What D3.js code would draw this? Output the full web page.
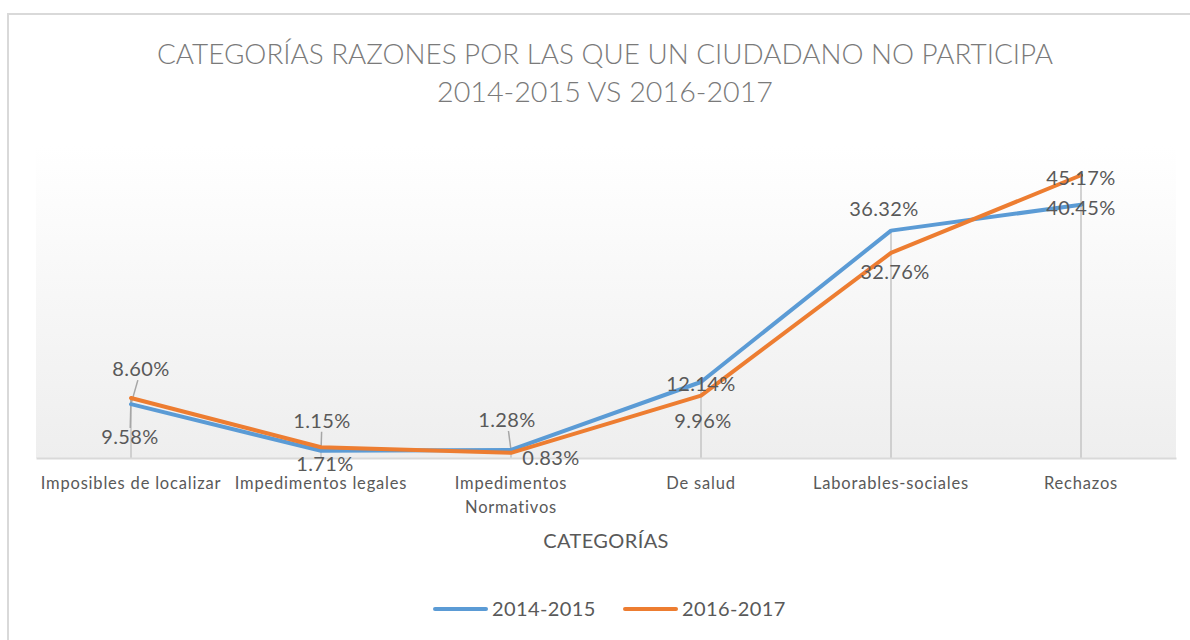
<!DOCTYPE html>
<html>
<head>
<meta charset="utf-8">
<script src="https://cdn.jsdelivr.net/npm/d3@7"></script>
<style>
  body { margin: 0; background: #fff; }
  svg { display: block; font-family: Lato, "Open Sans", sans-serif; }
</style>
</head>
<body>
<div id="chart"></div>
<script>
// data
var categories = ["Imposibles de localizar", "Impedimentos legales", "Impedimentos Normativos", "De salud", "Laborables-sociales", "Rechazos"];
var serie2014 = [8.60, 1.15, 1.28, 12.14, 36.32, 40.45];
var serie2016 = [9.58, 1.71, 0.83, 9.96, 32.76, 45.17];
var seriesNames = ["2014-2015", "2016-2017"];
var yTicks = [0, 50];

// label nudges (dx, dy from point to label centre), as moved in the original
var nudge2014 = [[10, -35], [1, -30], [-4, -30], [0, 2], [-7, -22], [0, 3]];
var nudge2016 = [[-1, 39], [4, 17], [40, 5], [2, 25], [4, 19], [0, 3]];

var colors = ["#5B9BD5", "#ED7D31"];

var width = 1190, height = 640;
var plot = {left: 36, right: 1176, top: 145, bottom: 458};

var svg = d3.select("#chart").append("svg")
    .attr("width", width)
    .attr("height", height);

// chart frame
svg.append("rect")
    .attr("x", 8).attr("y", 14)
    .attr("width", width + 20).attr("height", height + 20)
    .attr("fill", "#fff")
    .attr("stroke", "#d9d9d9")
    .attr("stroke-width", 2);

//////// SCALES ////////
var xScale = d3.scaleBand()
    .domain(categories)
    .range([plot.left, plot.right]);

var yScale = d3.scaleLinear()
    .domain(d3.extent(yTicks))
    .range([plot.bottom, plot.top]);

function cx(i) { return xScale(categories[i]) + xScale.bandwidth() / 2; }

// plot area gradient
var grad = svg.append("defs").append("linearGradient")
    .attr("id", "plotFill")
    .attr("x1", 0).attr("y1", 0).attr("x2", 0).attr("y2", 1);
grad.append("stop").attr("offset", "0%").attr("stop-color", "#ffffff");
grad.append("stop").attr("offset", "13%").attr("stop-color", "#fdfdfd");
grad.append("stop").attr("offset", "100%").attr("stop-color", "#eeeeee");

svg.append("rect")
    .attr("x", plot.left).attr("y", plot.top)
    .attr("width", plot.right - plot.left)
    .attr("height", plot.bottom - plot.top)
    .attr("fill", "url(#plotFill)");

// title
var title = svg.append("g")
    .attr("fill", "#7a7a7a")
    .attr("font-size", 28)
    .attr("font-weight", 300)
    .attr("text-anchor", "middle");
title.append("text").attr("x", 605).attr("y", 64)
    .attr("textLength", 896).attr("lengthAdjust", "spacingAndGlyphs")
    .text("CATEGORÍAS RAZONES POR LAS QUE UN CIUDADANO NO PARTICIPA");
title.append("text").attr("x", 605).attr("y", 102)
    .attr("textLength", 336).attr("lengthAdjust", "spacingAndGlyphs")
    .text("2014-2015 VS 2016-2017");

// drop lines
svg.append("g").selectAll("line")
    .data(categories)
    .enter().append("line")
    .attr("x1", function(d, i) { return cx(i); })
    .attr("x2", function(d, i) { return cx(i); })
    .attr("y1", function(d, i) { return yScale(Math.max(serie2014[i], serie2016[i])); })
    .attr("y2", yScale(0))
    .attr("stroke", "#c4c4c4")
    .attr("stroke-width", 1.5);

// x axis
var xAxis = svg.append("g")
    .attr("transform", "translate(0," + yScale(0) + ")")
    .call(d3.axisBottom(xScale).tickSize(0).tickPadding(0));

xAxis.select(".domain")
    .attr("stroke", "#d9d9d9")
    .attr("stroke-width", 2);

xAxis.selectAll(".tick text")
    .attr("fill", "#595959")
    .attr("font-size", 16.5)
    .attr("font-family", "Lato, sans-serif")
    .attr("letter-spacing", 0.8)
    .attr("dy", null)
    .attr("y", 31)
    .each(function(d) {
        var el = d3.select(this);
        var words = d.split(" ");
        if (d === "Impedimentos Normativos") {
            el.text(null);
            words.forEach(function(w, k) {
                el.append("tspan").attr("x", 0).attr("y", 31 + k * 24).text(w);
            });
        }
    });

// axis title
svg.append("text")
    .attr("x", (plot.left + plot.right) / 2)
    .attr("y", 548)
    .attr("text-anchor", "middle")
    .attr("fill", "#595959")
    .attr("font-size", 20)
    .attr("letter-spacing", 0.4)
    .text("CATEGORÍAS");

// leader lines and lines
var allSeries = [serie2014, serie2016];
var nudges = [nudge2014, nudge2016];

var line = d3.line()
    .x(function(d, i) { return cx(i); })
    .y(function(d) { return yScale(d); });

// leaders for labels moved far from their point
var leaders = svg.append("g")
    .attr("stroke", "#a6a6a6")
    .attr("stroke-width", 1.5);
allSeries.forEach(function(s, si) {
    s.forEach(function(v, i) {
        var n = nudges[si][i];
        if (Math.abs(n[1]) < 28) return;
        var px = cx(i), py = yScale(v);
        var lx = px + n[0], ly = py + n[1];
        var edge = n[1] < 0 ? ly + 11 : ly - 9;
        var t = (edge - py) / (ly - py);
        leaders.append("line")
            .attr("x1", px + (lx - px) * t).attr("y1", edge)
            .attr("x2", px).attr("y2", py);
    });
});

svg.append("g").selectAll("path")
    .data(allSeries)
    .enter().append("path")
    .attr("d", line)
    .attr("fill", "none")
    .attr("stroke", function(d, i) { return colors[i]; })
    .attr("stroke-width", 4)
    .attr("stroke-linejoin", "round")
    .attr("stroke-linecap", "round");

// data labels
allSeries.forEach(function(s, si) {
    svg.append("g").selectAll("text")
        .data(s)
        .enter().append("text")
        .attr("x", function(d, i) { return cx(i) + nudges[si][i][0]; })
        .attr("y", function(d, i) { return yScale(d) + nudges[si][i][1]; })
        .attr("dy", "0.35em")
        .attr("text-anchor", "middle")
        .attr("fill", "#595959")
        .attr("font-size", 20)
        .attr("letter-spacing", 0.4)
        .text(function(d) { return d.toFixed(2) + "%"; });
});

// legend
var legendX = [433, 623];
var legend = svg.append("g").selectAll("g")
    .data(seriesNames)
    .enter().append("g")
    .attr("transform", function(d, i) { return "translate(" + legendX[i] + ",609)"; });

legend.append("line")
    .attr("x1", 2).attr("x2", 53)
    .attr("stroke", function(d, i) { return colors[i]; })
    .attr("stroke-width", 4)
    .attr("stroke-linecap", "round");

legend.append("text")
    .attr("x", 59)
    .attr("dy", "0.35em")
    .attr("fill", "#595959")
    .attr("font-size", 20)
    .attr("letter-spacing", 0.4)
    .text(function(d) { return d; });
</script>
</body>
</html>
